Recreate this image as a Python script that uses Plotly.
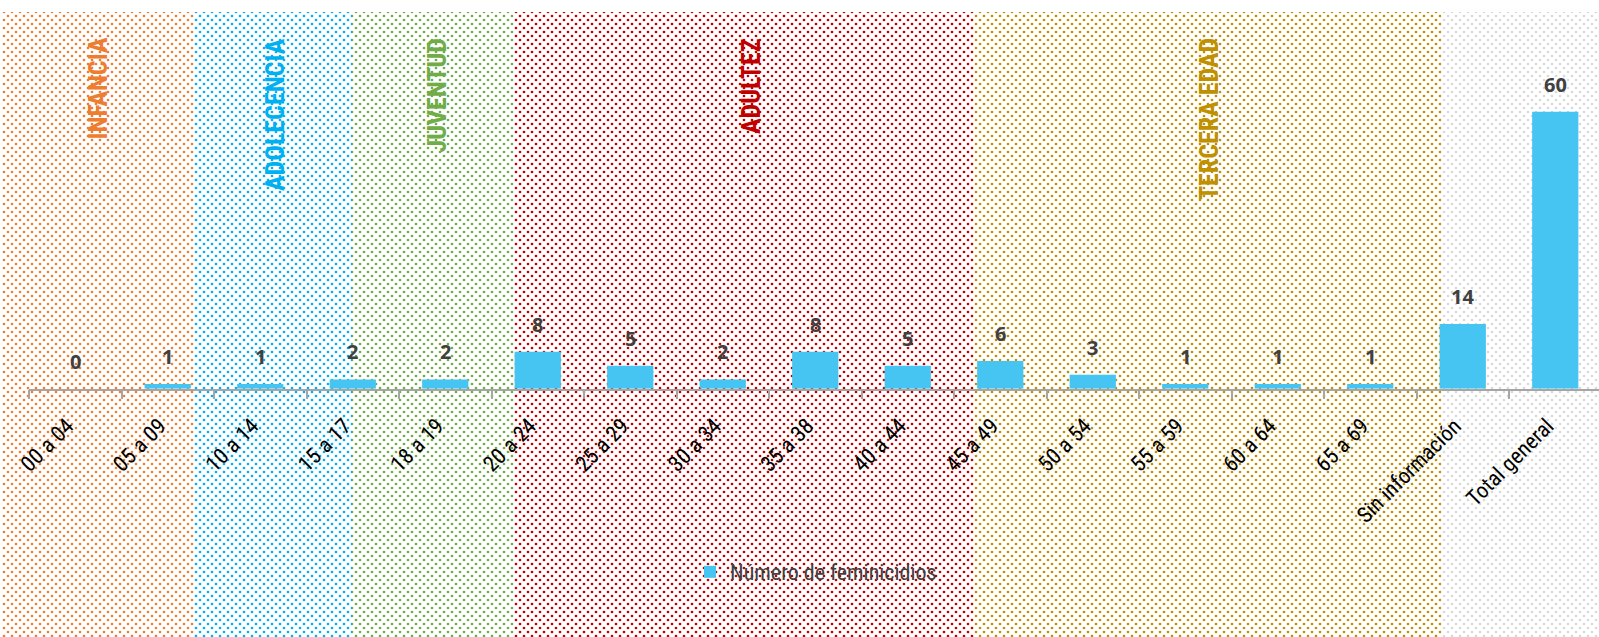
import plotly.graph_objects as go

# ---------------- data ----------------
categories = ["00 a 04", "05 a 09", "10 a 14", "15 a 17", "18 a 19", "20 a 24",
              "25 a 29", "30 a 34", "35 a 38", "40 a 44", "45 a 49", "50 a 54",
              "55 a 59", "60 a 64", "65 a 69", "Sin información", "Total general"]
values = [0, 1, 1, 2, 2, 8, 5, 2, 8, 5, 6, 3, 1, 1, 1, 14, 60]
series_name = "Número de feminicidios"

group_names = ["INFANCIA", "ADOLECENCIA", "JUVENTUD", "ADULTEZ", "TERCERA EDAD", ""]
group_colors = ["#ED7D31", "#00B0F0", "#70AD47", "#C00000", "#BF9000", "#D9D9D9"]

# ---------------- layout constants (pixels of the 1599x637 page) ----------------
W, H = 1599, 637
region_edges = [0, 193, 352, 514, 974, 1441, 1599]
region_top = 12
label_centers = [97.5, 274.5, 436, 751, 1209]
label_top = 36
axis_y = 388.7
plot_left = 29
cat_px = 92.5
px_per_unit = 4.615

bar_color = "#47C5F2"
narrow = "Liberation Sans Narrow, Arial Narrow, Roboto Condensed, DejaVu Sans Condensed, sans-serif"
num_font = "Noto Sans, Open Sans, sans-serif"

fig = go.Figure()

centers = [(region_edges[i] + region_edges[i + 1]) / 2 for i in range(len(group_colors))]
widths = [region_edges[i + 1] - region_edges[i] for i in range(len(group_colors))]
heights = [H - region_top] * len(group_colors)

# dotted background, layer 1 (origin 0,0)
fig.add_trace(go.Bar(
    x=centers, y=heights, width=widths, base=0,
    marker=dict(color="white", line=dict(width=0),
                pattern=dict(shape=".", fgcolor=group_colors, bgcolor="white",
                             size=8, solidity=0.09, fillmode="replace")),
    showlegend=False, hoverinfo="skip", xaxis="x", yaxis="y"))
# dotted background, layer 2 (origin shifted 4,4 -> staggered dots)
fig.add_trace(go.Bar(
    x=centers, y=heights, width=widths, base=0,
    marker=dict(color="rgba(0,0,0,0)", line=dict(width=0),
                pattern=dict(shape=".", fgcolor=group_colors, bgcolor="rgba(0,0,0,0)",
                             size=8, solidity=0.09, fillmode="replace")),
    showlegend=False, hoverinfo="skip", xaxis="x2", yaxis="y2"))

# main bars
fig.add_trace(go.Bar(
    x=categories, y=values, width=0.5, name=series_name,
    marker=dict(color=bar_color, line=dict(width=0)),
    xaxis="x3", yaxis="y3", hoverinfo="x+y"))

x_range = [-0.5, -0.5 + (W - plot_left) / cat_px]
y_top = (axis_y - region_top) / px_per_unit

annotations = []
for name, col, xc in zip(group_names, group_colors, label_centers):
    annotations.append(dict(
        text=name, xref="paper", yref="paper", x=xc / W, y=1 - label_top / H,
        xanchor="center", yanchor="top", textangle=-90, showarrow=False,
        font=dict(family=narrow, size=26, color=col, weight="bold")))
for c, v in zip(categories, values):
    annotations.append(dict(
        text=str(v), xref="x3", yref="y3", x=c, y=v, xanchor="center",
        yanchor="bottom", yshift=12, showarrow=False,
        font=dict(family=num_font, size=20, color="#404040", weight="bold")))

hidden = dict(visible=False, fixedrange=True, automargin=False, showgrid=False, zeroline=False)
fig.update_layout(
    width=W, height=H,
    margin=dict(l=0, r=0, t=0, b=0, pad=0, autoexpand=False),
    paper_bgcolor="white", plot_bgcolor="rgba(0,0,0,0)",
    barmode="overlay",
    xaxis=dict(domain=[0, 1], range=[0, W], anchor="y", **hidden),
    yaxis=dict(domain=[0, 1], range=[0, H], anchor="x", **hidden),
    xaxis2=dict(domain=[4 / W, 1], range=[4, W], anchor="y2", **hidden),
    yaxis2=dict(domain=[0, 1 - 4 / H], range=[0, H - 4], anchor="x2", **hidden),
    xaxis3=dict(domain=[plot_left / W, 1], range=x_range, type="category", anchor="y3",
                automargin=False,
                tickson="boundaries", ticks="outside", ticklen=9, tickwidth=1.5,
                tickcolor="#A6A6A6", showline=True, linecolor="#A6A6A6", linewidth=1.5,
                tickangle=-45, tickfont=dict(family=narrow, size=22, color="black"),
                showgrid=False, zeroline=False, ticklabelstandoff=14, ticklabelshift=-8),
    yaxis3=dict(domain=[(H - axis_y) / H, (H - region_top) / H], range=[0, y_top],
                anchor="x3", visible=False, showgrid=False, zeroline=False, automargin=False),
    showlegend=True,
    legend=dict(x=690 / W, y=1 - 572 / H, xanchor="left", yanchor="middle",
                bgcolor="rgba(0,0,0,0)", font=dict(family=narrow, size=22, color="#404040")),
    annotations=annotations,
)

fig.write_html("out.html", config={"displayModeBar": False},
               post_script="document.body.style.margin='0';document.body.style.overflow='hidden';")
